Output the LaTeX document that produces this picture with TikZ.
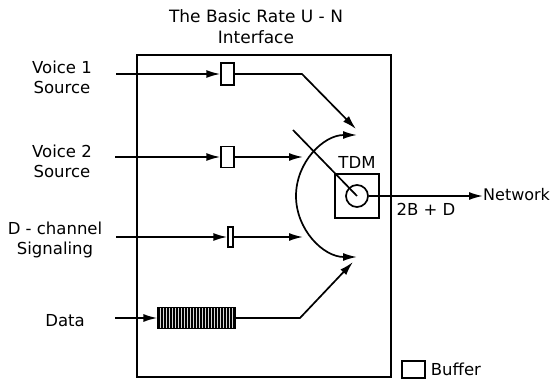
\documentclass[tikz,border=0pt]{standalone}
\usepackage{fontspec}
\setmainfont{DejaVu Sans}
\usetikzlibrary{arrows.meta,positioning,patterns.meta,calc}

\begin{document}
\begin{tikzpicture}[
    x=1pt, y=-1pt,
    every node/.style={font=\fontsize{16.5}{20}\selectfont, inner sep=0pt},
    source/.style={align=center},
    buffer/.style={rectangle, draw, line width=1.4pt, fill=white},
    arrow/.style={-{Latex[length=14pt, width=8pt]}, line width=1.7pt},
    wire/.style={line width=1.7pt},
]
    \useasboundingbox (0,0) rectangle (550,382);

    \node[align=center, font=\fontsize{17}{21}\selectfont] (title) at (256,27) {The Basic Rate U - N\\Interface};
    \node[draw, line width=1.8pt, minimum width=254pt, minimum height=322pt] (iface) at (264,216) {};

    \node[source] (voice1) at (62,77) {Voice 1\\Source};
    \node[source] (voice2) at (62,161) {Voice 2\\Source};
    \node[source] (dchan) at (55,240) {D - channel\\Signaling};
    \node[source] (data) at (65,321) {Data};

    \coordinate (voice1in) at (116,74);
    \coordinate (voice2in) at (115,157);
    \coordinate (dchanin) at (116,237);
    \coordinate (datain) at (115,318);

    \node[buffer, minimum width=13pt, minimum height=22pt] (buf1) at (227.5,74) {};
    \node[buffer, minimum width=13pt, minimum height=21pt] (buf2) at (227.5,157) {};
    \node[buffer, minimum width=5pt, minimum height=20pt] (bufd) at (230.5,237) {};
    \node[buffer, minimum width=77pt, minimum height=21pt, preaction={fill=black!15},
          pattern={Lines[angle=90, distance=3pt, line width=1.2pt]}] (bufdata) at (196.5,318) {};

    \node[draw, wire, minimum size=44pt] (tdm) at (357,196) {};
    \node[draw, wire, circle, minimum size=22pt] (switch) at (tdm.center) {};
    \node[above=4pt of tdm] (tdmlbl) {TDM};
    \node[anchor=west, font=\fontsize{16}{20}\selectfont] (network) at (483,195) {Network};

    \coordinate (v1bend) at (302,74);
    \coordinate (v1end) at (356,129);
    \coordinate (v2end) at (303,157);
    \coordinate (dend) at (303,237);
    \coordinate (databend) at (300,318);
    \coordinate (dataend) at (353,262);
    \coordinate (arm) at (293,130);

    \draw[arrow] (voice1in) -- (buf1.west);
    \draw[arrow] (voice2in) -- (buf2.west);
    \draw[arrow] (dchanin) -- (bufd.west);
    \draw[arrow] (datain) -- (bufdata.west);

    \draw[arrow] (buf1.east) -- (v1bend) -- (v1end);
    \draw[arrow] (buf2.east) -- (v2end);
    \draw[arrow] (bufd.east) -- (dend);
    \draw[arrow] (bufdata.east) -- (databend) -- (dataend);

    \draw[wire, {Latex[length=14pt, width=8pt]}-{Latex[length=14pt, width=8pt]}]
        (switch.center) ++(0,-61) arc[start angle=270, end angle=90, radius=61];
    \draw[wire] (arm) -- (switch.center);
    \draw[arrow] (switch.east) -- node[below=6pt] {2B + D} (switch.east -| network.west);

    \node[draw, line width=1.4pt, minimum width=23pt, minimum height=17pt] (legbox) at (413.5,369.5) {};
    \node[right=5pt of legbox] (leglbl) {Buffer};
\end{tikzpicture}
\end{document}
